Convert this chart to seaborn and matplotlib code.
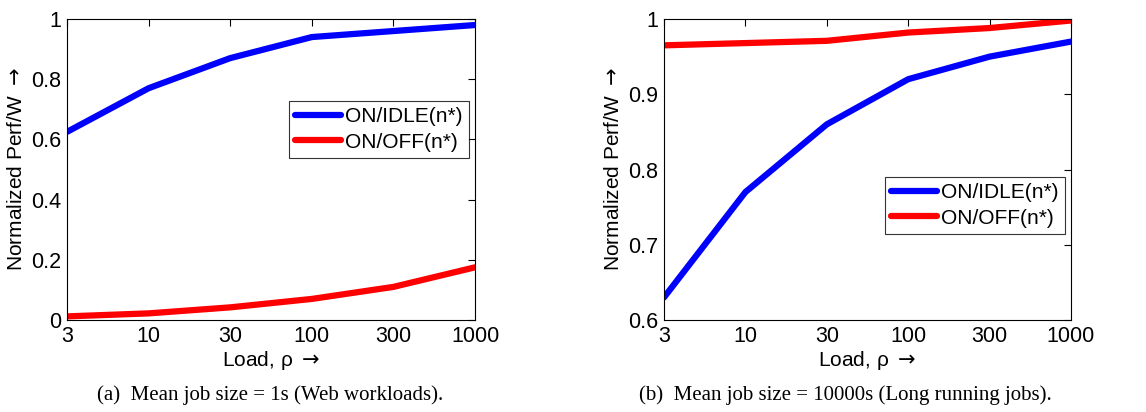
import matplotlib
matplotlib.use("Agg")
import matplotlib.pyplot as plt
import seaborn as sns
import pandas as pd
import numpy as np

loads = ["3", "10", "30", "100", "300", "1000"]
a_onidle = [0.625, 0.77, 0.87, 0.94, 0.96, 0.98]
a_onoff = [0.012, 0.022, 0.042, 0.07, 0.11, 0.175]
b_onidle = [0.63, 0.77, 0.86, 0.92, 0.95, 0.97]
b_onoff = [0.965, 0.968, 0.971, 0.982, 0.988, 0.998]
series_names = ["ON/IDLE(n*)", "ON/OFF(n*)"]
captions = ["(a)  Mean job size = 1s (Web workloads).",
            "(b)  Mean job size = 10000s (Long running jobs)."]

sns.set_theme(style="white")
plt.rcParams['font.family'] = ['Liberation Sans', 'DejaVu Sans']
plt.rcParams['text.color'] = 'black'
plt.rcParams['axes.labelcolor'] = 'black'
plt.rcParams['xtick.color'] = 'black'
plt.rcParams['ytick.color'] = 'black'
plt.rcParams['mathtext.fontset'] = 'dejavusans'

fig = plt.figure(figsize=(11.46, 4.12), dpi=100)
W, H = 1146, 412
ax1 = fig.add_axes([67/W, 1-320/H, (475-67)/W, (320-19)/H])
ax2 = fig.add_axes([664/W, 1-320/H, (1071-664)/W, (320-19)/H])

def draw(ax, idle, off, ylim, yticks, yticklabels, legend_loc):
    pos = list(range(len(loads)))
    df = pd.DataFrame({
        "pos": pos * 2,
        "val": idle + off,
        "series": [series_names[0]] * len(pos) + [series_names[1]] * len(pos),
    })
    sns.lineplot(data=df, x="pos", y="val", hue="series",
                 palette={series_names[0]: "#0000ff", series_names[1]: "#ff0000"},
                 linewidth=4.5, ax=ax, legend=True)
    ax.set_xlim(0, len(loads) - 1)
    ax.set_ylim(*ylim)
    ax.set_xticks(pos)
    ax.set_xticklabels(loads)
    ax.set_yticks(yticks)
    ax.set_yticklabels(yticklabels)
    ax.tick_params(direction="in", length=5, width=0.8, colors="black",
                   top=True, right=True, labelsize=15.5, pad=4)
    for s in ax.spines.values():
        s.set_color("black")
        s.set_linewidth(0.8)
        s.set_visible(True)
    ax.set_xlabel(r"Load, ρ $\rightarrow$", fontsize=15, labelpad=2, color="black")
    ax.set_ylabel(r"Normalized Perf/W $\rightarrow$", fontsize=15, labelpad=4, color="black")
    leg = ax.legend(loc="upper left", bbox_to_anchor=legend_loc, fontsize=15,
                    frameon=True, fancybox=False, handlelength=2.2,
                    handletextpad=0.2, borderpad=0.3, labelspacing=0.3,
                    borderaxespad=0)
    leg.get_frame().set_edgecolor("black")
    leg.get_frame().set_linewidth(0.8)
    for t in leg.get_texts():
        t.set_color("black")
    for l in leg.get_lines():
        l.set_linewidth(4.5)

draw(ax1, a_onidle, a_onoff, (0, 1), [0, 0.2, 0.4, 0.6, 0.8, 1],
     ["0", "0.2", "0.4", "0.6", "0.8", "1"],
     ((289-67)/(475-67), (320-101)/(320-19)))
draw(ax2, b_onidle, b_onoff, (0.6, 1), [0.6, 0.7, 0.8, 0.9, 1.0],
     ["0.6", "0.7", "0.8", "0.9", "1"],
     ((885-664)/(1071-664), (320-177)/(320-19)))

fig.text(270/W, 1-395/H, captions[0], ha="center", va="center", color="black",
         fontsize=15, family=["Liberation Serif", "DejaVu Serif"])
fig.text(845/W, 1-395/H, captions[1], ha="center", va="center", color="black",
         fontsize=15, family=["Liberation Serif", "DejaVu Serif"])

fig.savefig("out.png", dpi=100)
